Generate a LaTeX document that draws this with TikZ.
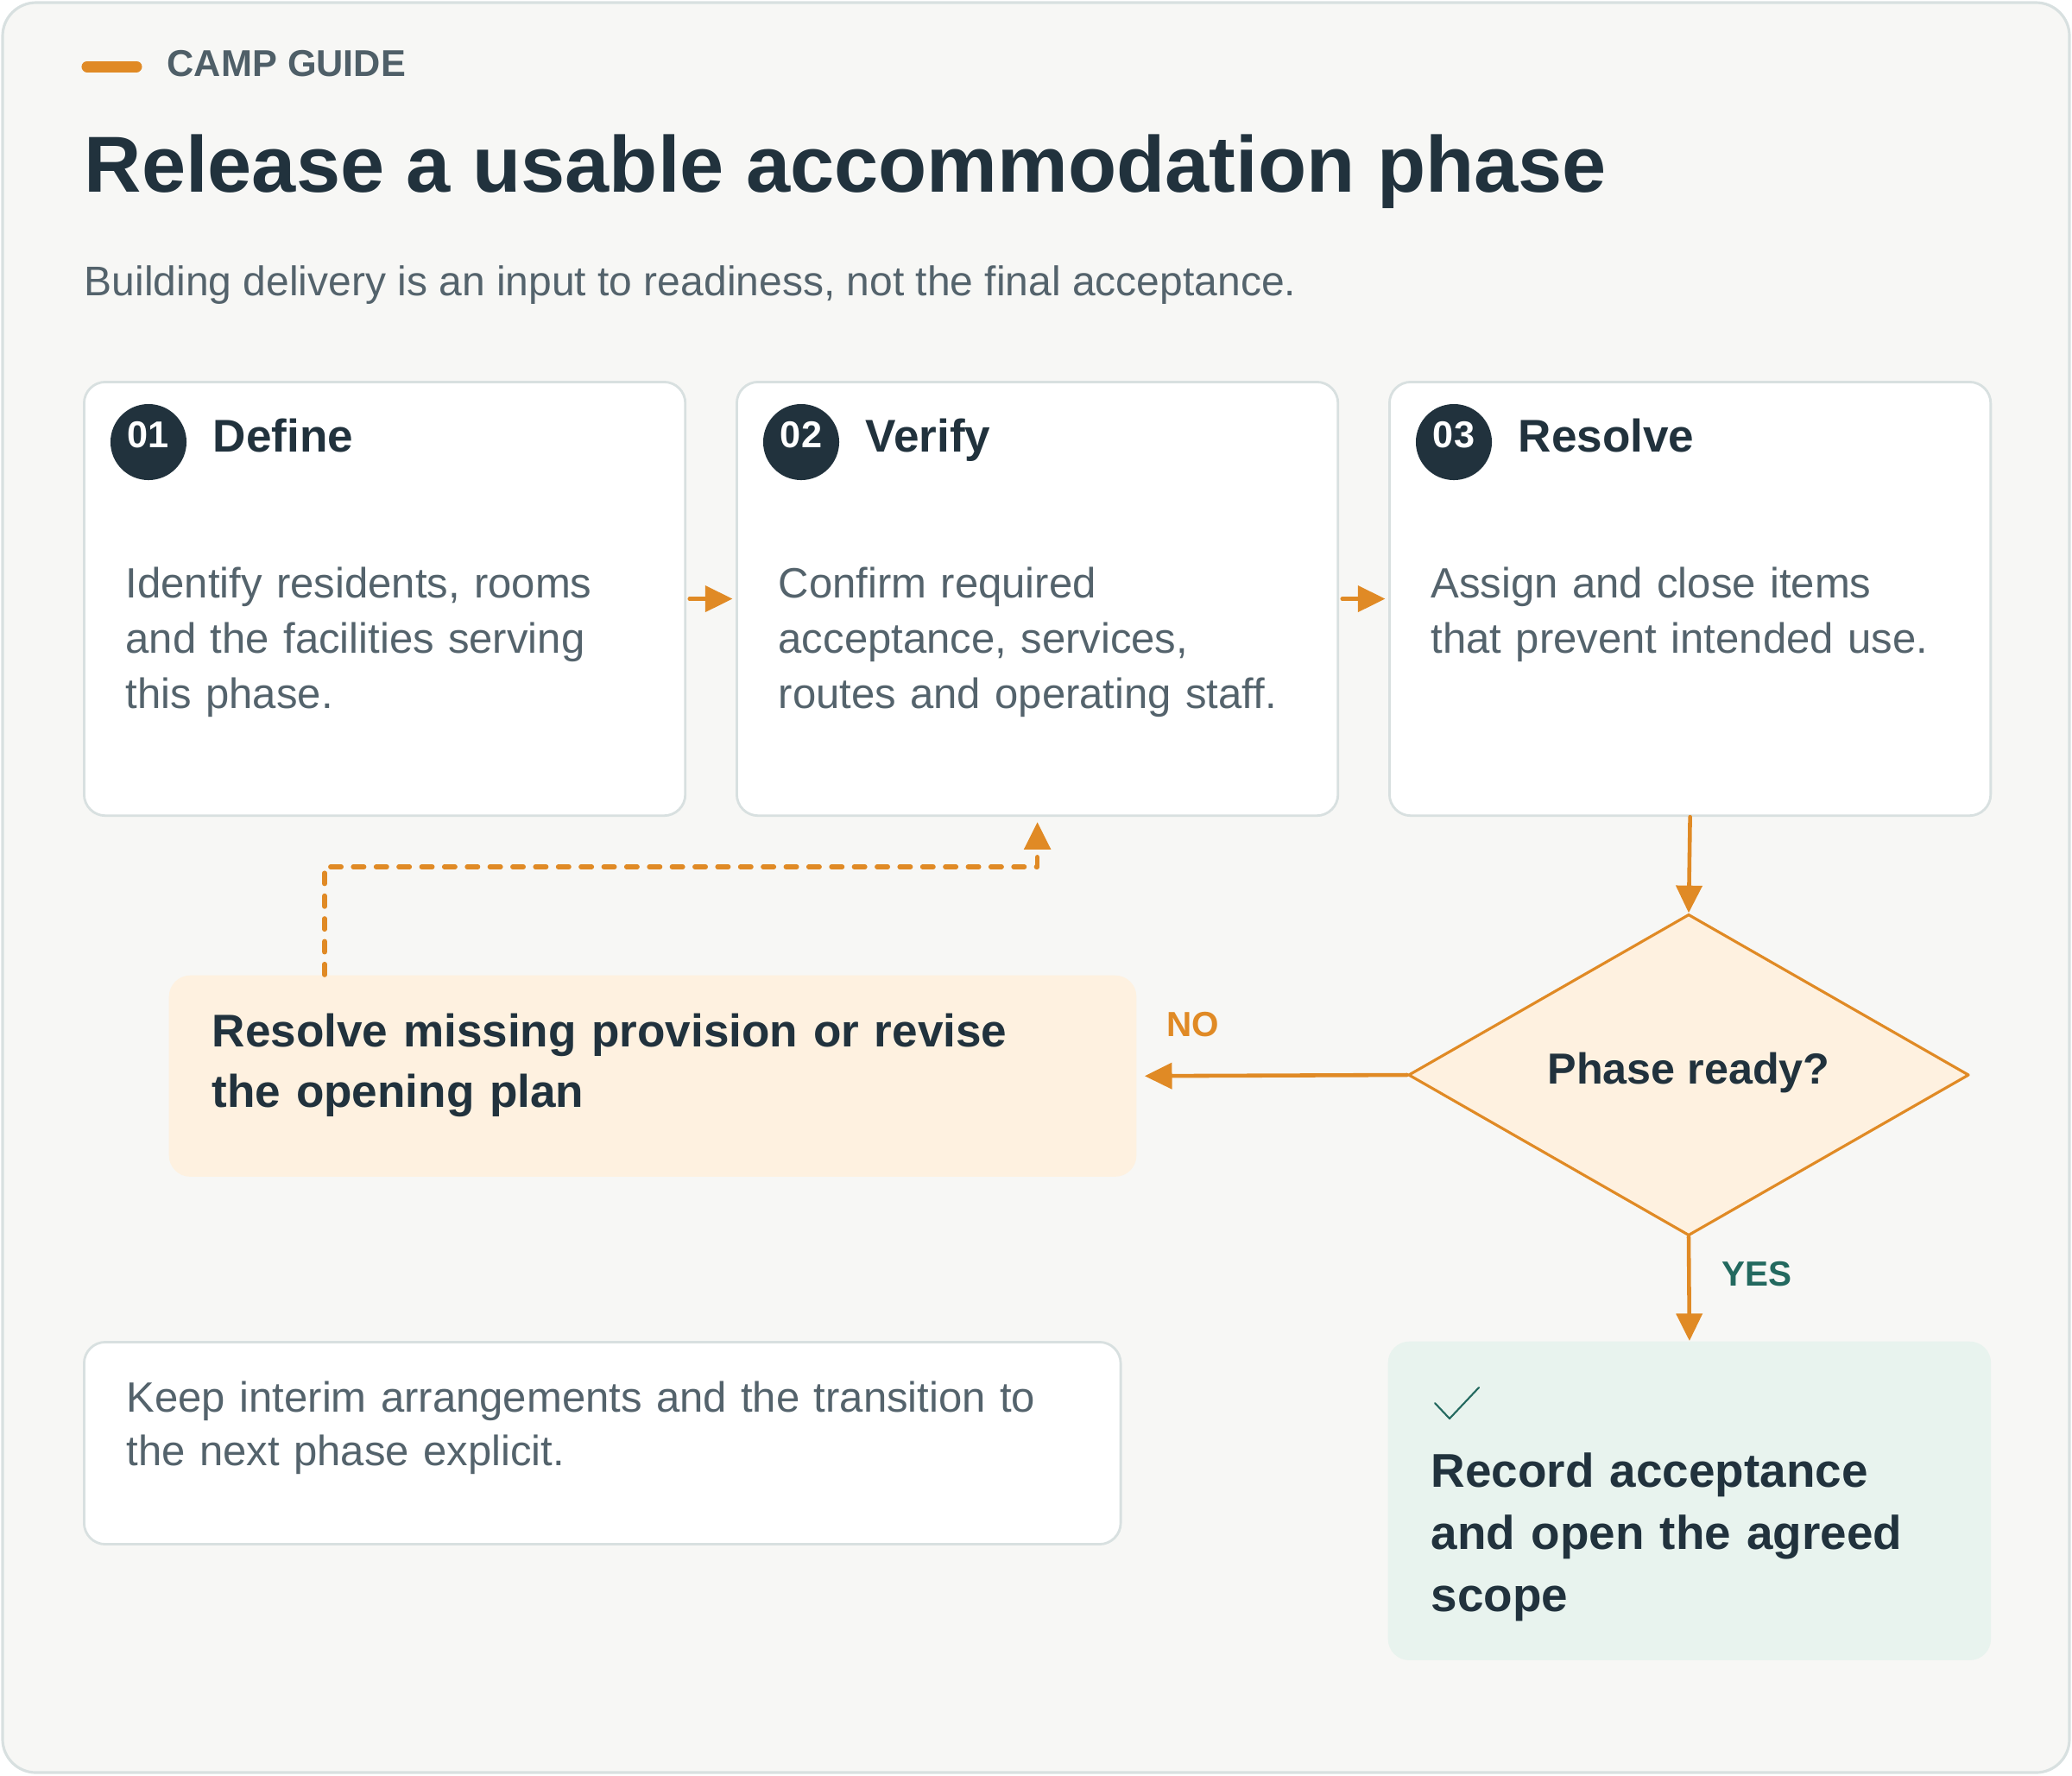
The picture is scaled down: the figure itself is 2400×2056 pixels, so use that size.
\documentclass[tikz,border=0pt]{standalone}
\usepackage{fontspec}
\setmainfont{Liberation Sans}
\usetikzlibrary{arrows.meta,calc,shapes.geometric}

\begin{document}
\begin{tikzpicture}[x=0.01cm,y=-0.01cm,line cap=round,line join=round]
  % ----- styles & colors -----
  \definecolor{pagebg}{RGB}{247,247,245}
  \definecolor{frameline}{RGB}{216,224,224}
  \definecolor{ink}{RGB}{33,50,61}
  \definecolor{slate}{RGB}{84,99,108}
  \definecolor{kickergray}{RGB}{79,95,104}
  \definecolor{amber}{RGB}{224,138,37}
  \definecolor{amberfill}{RGB}{254,241,224}
  \definecolor{mintfill}{RGB}{232,243,238}
  \definecolor{okgreen}{RGB}{35,105,95}
  \tikzset{
    card/.style={draw=frameline,line width=0.8pt,fill=white,rounded corners=7pt,
      anchor=north west,inner sep=0,minimum width=6.96cm,minimum height=5.02cm},
    badge/.style={circle,fill=ink,text=white,inner sep=0,minimum size=0.88cm,
      font=\bfseries\fontsize{12.3}{14}\selectfont},
    cardtitle/.style={anchor=base west,inner sep=0,text=ink,
      font=\bfseries\fontsize{15.1}{18}\selectfont},
    body/.style={anchor=base west,inner sep=0,text=slate,align=left,text width=6.5cm,
      font=\fontsize{13.95}{18.2}\selectfont},
    decision/.style={diamond,aspect=1.745,draw=amber,fill=amberfill,line width=0.9pt,
      inner sep=0,minimum width=6.49cm,minimum height=3.72cm,text=ink,
      font=\bfseries\fontsize{14.3}{17}\selectfont},
    panel/.style={anchor=north west,inner sep=0,rounded corners=7pt},
    strong/.style={anchor=base west,inner sep=0,text=ink,align=left},
    tag/.style={anchor=base west,inner sep=0,font=\bfseries\fontsize{11.5}{14}\selectfont},
    flow/.style={draw=amber,line width=1.3pt,-{Triangle[length=9pt,width=8.5pt]}},
    loopback/.style={flow,line width=1.6pt,dash pattern=on 3.5pt off 4pt}
  }

  % ----- frame -----
  \useasboundingbox (0,0) rectangle (2400,2056);
  \draw[draw=frameline,fill=pagebg,line width=0.9pt,rounded corners=11pt]
    (3,3) rectangle (2397,2053);

  % ----- heading -----
  \draw[amber,line width=3.7pt] (101,77) -- (158,77);
  \node[anchor=base west,inner sep=0,text=kickergray,
    font=\bfseries\fontsize{12.3}{15}\selectfont] (kicker) at (193,88) {CAMP GUIDE};
  \node[anchor=base west,inner sep=0,text=ink,
    font=\bfseries\fontsize{26.15}{32}\selectfont] (headline) at (97,222)
    {Release a usable accommodation phase};
  \node[anchor=base west,inner sep=0,text=slate,
    font=\fontsize{13.65}{16}\selectfont] (lede) at (97,342)
    {Building delivery is an input to readiness, not the final acceptance.};

  % ----- the three step cards -----
  \foreach \n/\x/\num/\head/\txt in {
      define/96/01/Define/{Identify residents, rooms\\and the facilities serving\\this phase.},
      verify/852/02/Verify/{Confirm required\\acceptance, services,\\routes and operating staff.},
      resolve/1608/03/Resolve/{Assign and close items\\that prevent intended use.}}{
    \node[card] (\n) at (\x,441) {};
    \node[badge] (\n-num) at ($(\n.north west)+(76,71)$) {\raisebox{5pt}{\num}};
    \node[cardtitle] (\n-head) at ($(\n.north west)+(150,82)$) {\head};
    \node[body] (\n-text) at ($(\n.north west)+(49,251)$) {\txt};
  }

  % ----- decision and outcomes -----
  \node[decision] (ready) at (1956,1245) {\raisebox{4.5pt}{Phase ready?}};

  \node[panel,fill=amberfill,minimum width=11.2cm,minimum height=2.33cm] (fix) at (195,1129) {};
  \node[strong,text width=10.5cm,font=\bfseries\fontsize{15.1}{19.9}\selectfont] (fix-text)
    at ($(fix.north west)+(50,83)$) {Resolve missing provision or revise\\the opening plan};

  \node[panel,draw=frameline,line width=0.8pt,fill=white,
    minimum width=12cm,minimum height=2.34cm] (note) at (96,1553) {};
  \node[body,text width=11.2cm,font=\fontsize{13.95}{17.9}\selectfont] (note-text)
    at ($(note.north west)+(50,82)$) {Keep interim arrangements and the transition to\\the next phase explicit.};

  \node[panel,fill=mintfill,minimum width=6.98cm,minimum height=3.69cm] (record) at (1607,1553) {};
  \draw[okgreen,line width=0.6pt] ($(record.north west)+(55,72)$) -- ++(17,18) -- ++(34,-36);
  \node[strong,text width=6.4cm,font=\bfseries\fontsize{15.6}{20.5}\selectfont] (record-text)
    at ($(record.north west)+(50,169)$) {Record acceptance\\and open the agreed\\scope};

  % ----- connectors -----
  \draw[flow,shorten <=1pt,shorten >=1pt] (define.east) -- (verify.west);
  \draw[flow,shorten <=1pt,shorten >=1pt] (verify.east) -- (resolve.west);
  \draw[flow] (resolve.south) -- (ready.north);
  \draw[flow,shorten >=2.5pt] (ready.west) -- (fix.east);
  \draw[flow] (ready.south) -- (record.north);
  \coordinate (loop) at ($(fix.north west)+(181,-125)$);
  \draw[loopback,shorten >=1.7pt] (fix.north west -| loop) -- (loop) -| (verify.south);

  \node[tag,text=amber] (no) at ($(fix.north east)+(34,71)$) {NO};
  \node[tag,text=okgreen] (yes) at ($(record.north)+(37,-64)$) {YES};

\end{tikzpicture}
\end{document}
